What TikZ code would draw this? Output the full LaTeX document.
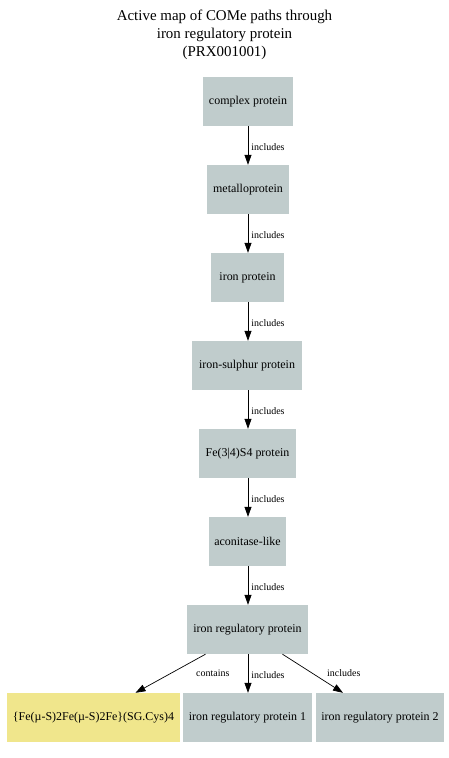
\documentclass[tikz,border=0pt]{standalone}
\usepackage{fontspec}
\setmainfont{Liberation Serif}
\usetikzlibrary{arrows.meta}
\definecolor{boxgray}{HTML}{C0CCCC}
\definecolor{boxyellow}{HTML}{F0E68C}
\begin{document}
\begin{tikzpicture}[x=1bp,y=-1bp,
  box/.style={fill=boxgray,draw=none,inner sep=0pt,minimum height=49bp,font=\fontsize{12}{14}\selectfont},
  ybox/.style={box,fill=boxyellow},
  rel/.style={draw=black,line width=0.7bp,-{Triangle[length=10bp,width=7bp]}},
  lab/.style={font=\fontsize{10}{11}\selectfont,inner sep=0pt,anchor=west}]
\useasboundingbox (0,0) rectangle (449,758);
\fill[white] (0,0) rectangle (449,758);
\node[align=center,font=\fontsize{15}{18}\selectfont] (title) at (224.5,35) {Active map of COMe paths through\\iron regulatory protein\\(PRX001001)};
\node[box,minimum width=90bp] (n1) at (248,101.5) {complex protein};
\node[box,minimum width=82bp] (n2) at (248,189.5) {metalloprotein};
\node[box,minimum width=73bp] (n3) at (247.5,277.5) {iron protein};
\node[box,minimum width=110bp] (n4) at (247,365.5) {iron-sulphur protein};
\node[box,minimum width=97bp] (n5) at (247.5,453.5) {Fe(3|4)S4 protein};
\node[box,minimum width=77bp] (n6) at (247.5,541.5) {aconitase-like};
\node[box,minimum width=121bp] (n7) at (247.5,629.5) {iron regulatory protein};
\node[ybox,minimum width=173bp] (n8) at (93.5,717.5) {\{Fe(µ-S)2Fe(µ-S)2Fe\}(SG.Cys)4};
\node[box,minimum width=129bp] (n9) at (247.5,717.5) {iron regulatory protein 1};
\node[box,minimum width=128bp] (n10) at (380,717.5) {iron regulatory protein 2};
\draw[rel] (n1.south) -- (n1.south |- n2.north) node[lab,pos=0.53,xshift=3bp] (l1) {includes};
\draw[rel] (n2.south) -- (n2.south |- n3.north) node[lab,pos=0.53,xshift=3bp] (l2) {includes};
\draw[rel] (n2.south |- n3.south) -- (n2.south |- n4.north) node[lab,pos=0.53,xshift=3bp] (l3) {includes};
\draw[rel] (n2.south |- n4.south) -- (n2.south |- n5.north) node[lab,pos=0.53,xshift=3bp] (l4) {includes};
\draw[rel] (n2.south |- n5.south) -- (n2.south |- n6.north) node[lab,pos=0.53,xshift=3bp] (l5) {includes};
\draw[rel] (n2.south |- n6.south) -- (n2.south |- n7.north) node[lab,pos=0.53,xshift=3bp] (l6) {includes};
\draw[rel] (n2.south |- n7.south) -- (n2.south |- n9.north) node[lab,pos=0.53,xshift=3bp] (l7) {includes};
\draw[rel] ([xshift=-42bp]n7.south) -- ([xshift=42bp]n8.north);
\node[lab] (l8) at (196,673.5) {contains};
\draw[rel] ([xshift=35bp]n7.south) -- ([xshift=-37bp]n10.north);
\node[lab] (l9) at (327,673.5) {includes};
\end{tikzpicture}
\end{document}
